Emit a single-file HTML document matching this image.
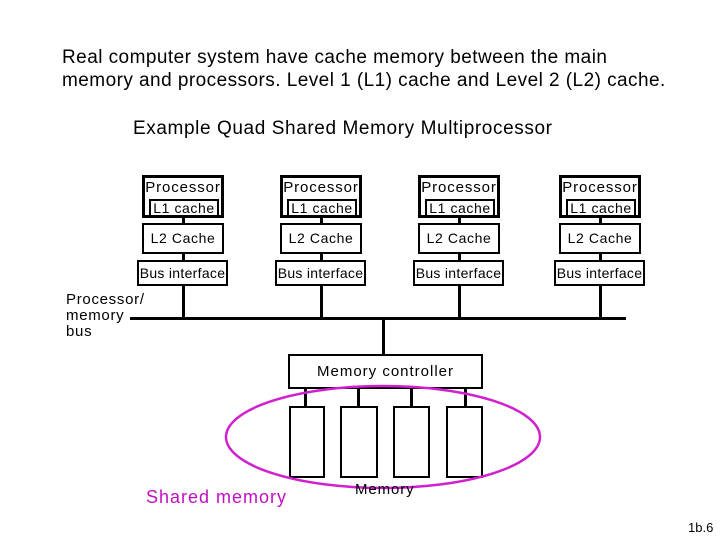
<!DOCTYPE html>
<html><head><style>
body{margin:0;width:720px;height:540px;background:#fff;position:relative;overflow:hidden;font-family:"Liberation Sans",sans-serif;color:#000}
.t{position:absolute;white-space:nowrap}
.b{position:absolute;border:2px solid #000;box-sizing:border-box;background:#fff;font-size:14px;text-align:center;white-space:nowrap;overflow:hidden}
.l{position:absolute;background:#000}
</style></head><body>
<div class="t" style="left:62px;top:46px;font-size:19px;letter-spacing:0.45px;line-height:23px">Real computer system have cache memory between the main<br>memory and processors. Level 1 (L1) cache and Level 2 (L2) cache.</div>
<div class="t" style="left:133px;top:118px;font-size:19px;letter-spacing:0.6px">Example Quad Shared Memory Multiprocessor</div>

<!-- bus -->
<div class="l" style="left:130px;top:317px;width:496px;height:3px"></div>
<div class="l" style="left:382px;top:318px;width:3px;height:37px"></div>
<div class="t" style="left:66px;top:292px;font-size:15px;letter-spacing:0.7px;line-height:16px">Processor/<br>memory<br>bus</div>

<div id="cols"></div>
<script>
var cs=[183,321,459,600],h='';
cs.forEach(function(c){
h+='<div class="l" style="left:'+(c-1)+'px;top:214px;width:3px;height:104px"></div>';
h+='<div class="b" style="left:'+(c-41)+'px;top:175px;width:82px;height:43px;line-height:20px;border-width:3px;font-size:15px;letter-spacing:0.9px">Processor</div>';
h+='<div class="b" style="left:'+(c-34)+'px;top:199px;width:70px;height:18px;line-height:14px;font-size:14px;letter-spacing:0.6px">L1 cache</div>';
h+='<div class="b" style="left:'+(c-41)+'px;top:223px;width:82px;height:31px;line-height:27px;letter-spacing:0.6px">L2 Cache</div>';
h+='<div class="b" style="left:'+(c-46)+'px;top:260px;width:91px;height:26px;line-height:22px;font-size:14px;letter-spacing:0.3px">Bus interface</div>';
});
document.getElementById('cols').innerHTML=h;
</script>

<!-- memory -->
<div class="l" style="left:304px;top:386px;width:3px;height:22px"></div>
<div class="l" style="left:357px;top:386px;width:3px;height:22px"></div>
<div class="l" style="left:410px;top:386px;width:3px;height:22px"></div>
<div class="l" style="left:464px;top:386px;width:3px;height:22px"></div>
<div class="b" style="left:288px;top:354px;width:195px;height:35px;line-height:31px;font-size:15px;letter-spacing:1px">Memory controller</div>
<div class="b" style="left:289px;top:406px;width:36px;height:72px"></div>
<div class="b" style="left:340px;top:406px;width:38px;height:72px"></div>
<div class="b" style="left:393px;top:406px;width:37px;height:72px"></div>
<div class="b" style="left:446px;top:406px;width:37px;height:72px"></div>
<svg style="position:absolute;left:0;top:0" width="720" height="540"><ellipse cx="383" cy="437" rx="157" ry="51" fill="none" stroke="#d020d0" stroke-width="2.5"/></svg>
<div class="t" style="left:355px;top:481px;font-size:15px;letter-spacing:0.9px">Memory</div>
<div class="t" style="left:146px;top:487px;font-size:18px;letter-spacing:1px;color:#c010c0">Shared memory</div>
<div class="t" style="left:688px;top:520px;font-size:13px">1b.6</div>
</body></html>
